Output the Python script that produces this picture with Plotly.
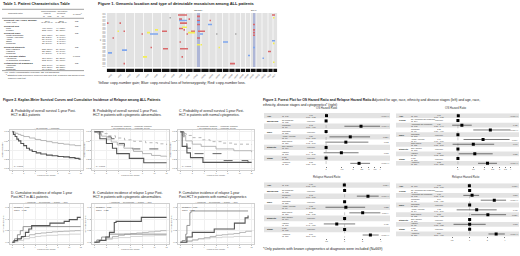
import numpy as np
import plotly.graph_objects as go

W, H = 520, 256
FONT = "Liberation Sans, Arial, Helvetica, sans-serif"

# ---------------- Table 1 ----------------
tbl_labels = ["Recipient Age (Years, Median)", "(Min, Max)", "Recipient Sex", "Male", "Female",
              "Recipient Race", "White/Caucasian", "African American", "Asian", "Other", "Unknown",
              "Recipient Ethnicity", "Non-Hispanic", "Hispanic", "Unknown",
              "ALL Disease Status", "Advanced", "In Complete Remission",
              "Cytogenetics at Diagnosis", "Abnormal", "Normal", "Unknown"]
tbl_absent = ["37.0", "(1.00, 66.0)", "", "400 (60%)", "272 (40%)", "", "501 (75%)", "55 (8.2%)",
              "51 (7.6%)", "45 (6.7%)", "20 (3.0%)", "", "575 (86%)", "83 (12%)", "14 (2.1%)", "",
              "110 (16%)", "562 (84%)", "", "365 (54%)", "241 (36%)", "66 (9.8%)"]
tbl_present = ["32.5", "(0.33, 65.0)", "", "44 (63%)", "26 (37%)", "", "54 (77%)", "5 (7.1%)",
               "4 (5.7%)", "5 (7.1%)", "2 (2.9%)", "", "59 (84%)", "10 (14%)", "1 (1.4%)", "",
               "20 (29%)", "50 (71%)", "", "40 (57%)", "23 (33%)", "7 (10%)"]
tbl_p = ["NS", "", "NS", "", "", "NS", "", "", "", "", "", "NS", "", "", "", "0.0001", "", "",
         "NS", "", "", ""]
tbl_group = [1, 0, 1, 0, 0, 1, 0, 0, 0, 0, 0, 1, 0, 0, 0, 1, 0, 0, 1, 0, 0, 0]

# ---------------- Figure 1 ----------------
chrom_names = ["chr1", "chr2", "chr3", "chr4", "chr5", "chr6", "chr7", "chr8", "chr9", "chr10",
               "chr11", "chr12", "chr13", "chr14", "chr15", "chr16", "chr17", "chr18", "chr19",
               "chr20", "chr21", "chr22", "chrX", "chrY"]
chrom_edges = [106.5, 116, 125.5, 134.5, 143.5, 152.5, 161.5, 170, 178, 185.5, 193, 201, 209, 216,
               222.5, 229, 235, 240.5, 245.5, 250.5, 256, 262, 268, 273, 277.5]
N_ROWS = 40
patient_ids = ["ID%03d" % (i + 1) for i in range(N_ROWS)]
gene_names = ["CDKN2A", "ETV6"]
gene_pos = [198.5, 254.2]
gene_width = [3.0, 2.4]

red_start = [107, 119.5, 112.5, 123.5, 123.5, 141.5, 150.5, 162, 163, 178, 179, 180, 188.5, 179,
             183.5, 186.5, 191, 179.5, 180, 181.5, 198, 197, 197, 197, 197, 230, 253, 253, 253,
             253, 268, 272, 209.5]
red_end = [108.5, 121, 114, 125, 125, 143, 152, 167, 168, 187, 182, 187, 190, 183, 185, 188, 195,
           181, 188, 183, 205, 200, 200, 200, 200, 235, 255, 255, 255, 255, 271, 275, 211]
red_row = [8, 8, 19, 14, 38, 16, 26, 14, 27, 2, 5, 8, 5, 12, 13, 16, 14, 22, 27, 33, 14, 3, 6, 9,
           19, 38, 9, 13, 15, 17, 29, 2, 6]
yel_start = [117.5, 143, 147, 155, 182, 188, 197, 200.5, 218.5, 273, 273, 273]
yel_end = [119, 147, 150, 158, 187, 195, 200, 202, 220, 274.5, 274.5, 274.5]
yel_row = [14, 33, 15, 13, 11, 15, 24, 24, 26, 4, 23, 37]
blu_start = [108, 122, 150, 179, 197, 200, 208, 223, 248, 253, 262.5, 272]
blu_end = [112, 127, 158, 187, 200, 203, 212, 228, 250, 255, 264, 275]
blu_row = [30, 28, 16, 6, 7, 16, 9, 22, 32, 26, 34, 21]
gry_start = [169.5, 216, 235]
gry_end = [171, 217.5, 236.5]
gry_row = [4, 16, 16]

# ---------------- Figure 2 (KM / cumulative incidence) ----------------
A_nomos_t = [0, 0.5, 1, 1.5, 2, 3, 4, 5, 6, 7, 8, 9, 10, 11, 12]
A_nomos_s = [1, 0.96, 0.93, 0.9, 0.87, 0.83, 0.79, 0.76, 0.73, 0.7, 0.68, 0.66, 0.64, 0.62, 0.61]
A_mos_t = [0, 0.2, 0.5, 0.8, 1.1, 1.5, 2, 2.5, 3, 3.5, 4.2, 5, 6, 7, 8, 9, 10, 11, 11.7, 12]
A_mos_s = [1, 0.93, 0.87, 0.8, 0.75, 0.68, 0.62, 0.55, 0.5, 0.46, 0.42, 0.39, 0.36, 0.34, 0.32,
           0.31, 0.29, 0.27, 0.25, 0.25]

B_g1_t = [0, 1, 2.3, 3.5, 5, 6.5, 8.5, 10.5, 12]
B_g1_s = [1, 0.95, 0.89, 0.83, 0.78, 0.74, 0.7, 0.67, 0.64]
B_g2_t = [0, 1.5, 2.8, 3.6, 5, 6.3, 12]
B_g2_s = [1, 0.86, 0.81, 0.68, 0.6, 0.53, 0.53]
B_g3_t = [0, 0.6, 1.2, 2, 2.8, 3.8, 4.9, 6.5, 8, 9.5, 11, 12]
B_g3_s = [1, 0.94, 0.88, 0.8, 0.72, 0.64, 0.55, 0.46, 0.4, 0.35, 0.33, 0.32]
B_g4_t = [0, 0.9, 2, 3, 3.7, 5.8, 8.2, 12]
B_g4_s = [1, 0.81, 0.68, 0.55, 0.4, 0.27, 0.15, 0.15]

C_g1_t = [0, 0.5, 1, 2, 3.5, 5, 7, 9, 12]
C_g1_s = [1, 0.95, 0.9, 0.84, 0.78, 0.73, 0.69, 0.66, 0.64]
C_g2_t = [0, 0.6, 1.1, 2.0, 6.9, 11.4]
C_g2_s = [1, 0.68, 0.55, 0.40, 0.21, 0.03]
C_g3_t = [0, 0.3, 0.9, 2, 3.5, 6, 9, 12]
C_g3_s = [1, 0.9, 0.75, 0.66, 0.6, 0.53, 0.48, 0.44]
C_g4_t = [0, 0.3, 1.1, 1.7, 3.8, 12]
C_g4_s = [1, 0.6, 0.42, 0.29, 0.16, 0.16]

D_rel_mos_t = [0, 0.3, 0.9, 1.6, 2.3, 2.9, 3.4, 6.6, 9.1, 10, 11.4, 12]
D_rel_mos_c = [0, 0.03, 0.06, 0.1, 0.17, 0.23, 0.29, 0.33, 0.36, 0.39, 0.43, 0.43]
D_trm_mos_t = [0, 0.4, 0.9, 1.4, 1.9, 12]
D_trm_mos_c = [0, 0.06, 0.13, 0.2, 0.27, 0.27]
D_rel_no_t = [0, 0.5, 1, 1.5, 2, 3, 4, 5, 6, 7, 8, 9, 10, 11, 12]
D_rel_no_c = [0, 0.02, 0.05, 0.08, 0.1, 0.13, 0.15, 0.16, 0.17, 0.18, 0.185, 0.19, 0.195, 0.2, 0.2]
D_trm_no_t = [0, 0.5, 1, 2, 3, 4, 5, 6, 8, 10, 12]
D_trm_no_c = [0, 0.01, 0.03, 0.06, 0.08, 0.1, 0.11, 0.12, 0.13, 0.14, 0.14]

E_rel_mos_t = [0, 0.8, 1.9, 2.5, 3.3, 3.6, 7.8, 12]
E_rel_mos_c = [0, 0.03, 0.09, 0.17, 0.34, 0.36, 0.43, 0.43]
E_trm_mos_t = [0, 0.4, 1.2, 2.5, 12]
E_trm_mos_c = [0, 0.04, 0.09, 0.14, 0.14]
E_rel_no_t = [0, 0.5, 1, 2, 3, 4, 5, 6, 7, 8, 9, 10, 11, 12]
E_rel_no_c = [0, 0.02, 0.04, 0.07, 0.1, 0.12, 0.14, 0.15, 0.16, 0.17, 0.18, 0.19, 0.2, 0.2]
E_trm_no_t = [0, 0.5, 1, 2, 3, 4, 6, 8, 10, 12]
E_trm_no_c = [0, 0.01, 0.03, 0.05, 0.07, 0.08, 0.1, 0.11, 0.12, 0.12]

F_trm_mos_t = [0, 0.3, 0.9, 1.1, 1.6, 1.8, 11.4]
F_trm_mos_c = [0, 0.03, 0.14, 0.29, 0.51, 0.54, 0.54]
F_rel_mos_t = [0, 1.1, 2, 5.7, 9.1, 10.9, 11.4]
F_rel_mos_c = [0, 0.09, 0.17, 0.23, 0.33, 0.42, 0.46]
F_rel_no_t = [0, 1, 2, 3, 4, 5, 6, 7, 8, 9, 10, 11, 12]
F_rel_no_c = [0, 0.02, 0.04, 0.06, 0.08, 0.1, 0.12, 0.13, 0.14, 0.15, 0.17, 0.19, 0.2]
F_trm_no_t = [0, 1, 2, 3, 5, 7, 9, 12]
F_trm_no_c = [0, 0.02, 0.04, 0.06, 0.08, 0.09, 0.1, 0.1]

# ---------------- Figure 3 (forest plots) ----------------
L_var = ["Age", "Mosaicism", "", "Race", "", "", "Ethnicity", "", "Stage", ""]
L_level = ["", "No Mosaicism", "Mosaicism", "Caucasian", "African American", "Other Races",
           "Non-Hispanic", "Hispanic", "In CR", "Advanced"]
L_n = [742, 672, 70, 555, 60, 127, 634, 108, 612, 130]
L_os_hr = [1.01, None, 2.45, None, 1.86, 1.66, None, 1.48, None, 2.33]
L_os_lo = [1.00, None, 1.60, None, 1.09, 0.98, None, 0.94, None, 1.86]
L_os_hi = [1.02, None, 4.00, None, 3.09, 2.96, None, 2.30, None, 3.09]
L_os_p = ["<0.001 ***", "", "<0.001 ***", "", "0.023 *", "0.062", "", "0.093", "", "<0.001 ***"]
L_rel_hr = [0.99, None, 2.45, None, 1.05, 2.00, None, 0.74, None, 2.69]
L_rel_lo = [0.98, None, 1.60, None, 0.48, 1.20, None, 0.45, None, 2.00]
L_rel_hi = [1.00, None, 3.70, None, 2.20, 3.95, None, 1.50, None, 3.70]
L_rel_p = ["0.011 *", "", "<0.001 ***", "", "0.888", "0.007 **", "", "0.430", "", "<0.001 ***"]

R_var = ["Age", "Group", "", "", "Race", "", "", "Ethnicity", "", "Stage", ""]
R_level = ["", "No Abnormality/No Mosaicism", "Abnormality/No Mosaicism", "Mosaicism",
           "Caucasian", "African American", "Other Races", "Non-Hispanic", "Hispanic", "In CR",
           "Advanced"]
R_n = [669, 264, 342, 63, 503, 54, 112, 571, 98, 553, 116]
R_os_hr = [1.01, None, 1.11, 2.35, None, 1.94, 1.50, None, 1.56, None, 2.18]
R_os_lo = [1.00, None, 0.86, 1.50, None, 1.16, 0.87, None, 1.02, None, 1.70]
R_os_hi = [1.02, None, 1.44, 4.00, None, 3.90, 2.60, None, 2.50, None, 2.80]
R_os_p = ["<0.001 ***", "", "0.420", "<0.001 ***", "", "0.013 *", "0.140", "", "0.051", "",
          "<0.001 ***"]
R_rel_hr = [0.99, None, 1.10, 2.64, None, 1.32, 2.05, None, 1.00, None, 2.84]
R_rel_lo = [0.98, None, 0.78, 1.55, None, 0.60, 1.06, None, 0.53, None, 2.10]
R_rel_hi = [1.00, None, 1.45, 4.20, None, 2.90, 4.20, None, 1.88, None, 4.00]
R_rel_p = ["0.018 *", "", "0.569", "<0.001 ***", "", "0.479", "0.032 *", "", "0.993", "",
           "<0.001 ***"]
os_ticks = [1, 1.5, 2, 2.5, 3, 3.5, 4]
rel_ticks = [0.5, 1, 2, 4]

# =====================================================================
def px(x):
    return x / W


def py(y):
    return 1 - y / H


def dx(a, b):
    return [a / W, b / W]


def dy(top, bottom):
    return [1 - bottom / H, 1 - top / H]


annotations, shapes, traces = [], [], []
layout = dict(width=W, height=H, margin=dict(l=0, r=0, t=0, b=0), paper_bgcolor="white",
              plot_bgcolor="white", showlegend=False, barmode="overlay",
              font=dict(family=FONT, size=3, color="#222"))


def ann(x, y, s, size, bold=False, anchor="left", yanchor="middle", color="#222",
        xref="paper", yref="paper", angle=0):
    if bold:
        s = "<b>%s</b>" % s
    annotations.append(dict(
        x=px(x) if xref == "paper" else x, y=py(y) if yref == "paper" else y,
        xref=xref, yref=yref, text=s, showarrow=False, xanchor=anchor, yanchor=yanchor,
        align=anchor, borderpad=0, textangle=angle,
        font=dict(size=size, color=color, family=FONT)))


def hline(x0, x1, y, color="#444", w=0.5):
    shapes.append(dict(type="line", xref="paper", yref="paper", x0=px(x0), x1=px(x1),
                       y0=py(y), y1=py(y), line=dict(color=color, width=w)))


# ---------------- Table 1 ----------------
ann(2, 3.5, "Table 1. Patient Characteristics Table", 3.8, bold=True)
hline(2, 84, 9.3)
hline(2, 84, 18.3)
hline(2, 84, 70.6)
ann(15, 13.5, "Characteristic", 2.4, anchor="center", color="#444")
ann(54, 11.3, "Chromosomal Aberration", 2.4, anchor="center", color="#444")
ann(47, 13.7, "Absent", 2.4, anchor="center", color="#444")
ann(61, 13.7, "Present", 2.4, anchor="center", color="#444")
ann(47, 16.1, "N = 672", 2.4, anchor="center", color="#444")
ann(61, 16.1, "N = 70", 2.4, anchor="center", color="#444")
ann(77, 13.5, "p-value<sup>1</sup>", 2.4, anchor="center", color="#444")
row_y = [20.7, 22.9, 25.7, 27.9, 30.0, 33.1, 35.2, 37.3, 39.3, 41.3, 43.4, 46.6, 48.8, 50.9, 53.0,
         55.7, 57.8, 59.9, 62.7, 64.7, 66.7, 68.7]
for lab, a, b, p, g, yy in zip(tbl_labels, tbl_absent, tbl_present, tbl_p, tbl_group, row_y):
    ann(3 if g else 5, yy, lab, 2.3, bold=bool(g), color="#222")
    ann(47, yy, a, 2.3, anchor="center", color="#333")
    ann(61, yy, b, 2.3, anchor="center", color="#333")
    ann(77, yy, p, 2.3, anchor="center", color="#333")
ann(3, 72.2, "ALL, acute lymphoblastic leukemia; NS, not significant", 2.3, color="#333")
ann(5, 75.2, "<sup>1</sup> Statistical tests performed: Wilcoxon rank sum test; Pearson's Chi-squared test;",
    2.2, color="#333")
ann(7, 77.6, "Fisher's exact test", 2.2, color="#333")

# ---------------- Figure 1 ----------------
ann(97, 3.5, "Figure 1. Genomic location and type of detectable mosaicism among ALL patients",
    4.0, bold=True)
edges = np.array(chrom_edges)
centers = (edges[:-1] + edges[1:]) / 2
widths = np.diff(edges)
traces.append(go.Bar(x=centers, y=[N_ROWS] * len(centers), base=0.5, width=widths - 0.7,
                     marker=dict(color="#e2e2e2", line=dict(width=0)), xaxis="x", yaxis="y",
                     hoverinfo="skip"))
traces.append(go.Bar(x=gene_pos, y=[N_ROWS] * 2, base=0.5, width=gene_width,
                     marker=dict(color="rgba(110,128,200,0.45)", line=dict(width=0)),
                     xaxis="x", yaxis="y", hoverinfo="skip"))


def seg_trace(starts, ends, rows, color):
    xs, ys = [], []
    for s, e, r in zip(starts, ends, rows):
        xs += [s, e, None]
        ys += [r, r, None]
    return go.Scatter(x=xs, y=ys, mode="lines", line=dict(color=color, width=1.6),
                      xaxis="x", yaxis="y", hoverinfo="skip")


traces.append(seg_trace(gry_start, gry_end, gry_row, "#a8a8a8"))
traces.append(seg_trace(red_start, red_end, red_row, "#d9696b"))
traces.append(seg_trace(blu_start, blu_end, blu_row, "#7ea6ee"))
traces.append(seg_trace(yel_start, yel_end, yel_row, "#f2ee55"))
layout["xaxis"] = dict(domain=dx(chrom_edges[0], chrom_edges[-1]), anchor="y",
                       range=[chrom_edges[0], chrom_edges[-1]], visible=False)
layout["yaxis"] = dict(domain=dy(13, 67), anchor="x", range=[N_ROWS + 0.5, 0.5],
                       tickvals=list(range(1, N_ROWS + 1)), ticktext=patient_ids,
                       tickfont=dict(size=1.2, color="#777"), showgrid=False, zeroline=False,
                       ticks="", showline=False,
                       title=dict(text="ID", font=dict(size=2.2, color="#444"), standoff=1))
for g, gp in zip(gene_names, gene_pos):
    ann(gp, 10, g, 2.2, anchor="center", color="#333", xref="x")
traces.append(go.Bar(x=centers, y=[1] * len(centers), base=0, width=widths - 0.7,
                     marker=dict(color="#111111", line=dict(width=0)), xaxis="x2", yaxis="y2",
                     hoverinfo="skip"))
layout["xaxis2"] = dict(domain=dx(chrom_edges[0], chrom_edges[-1]), anchor="y2",
                        range=[chrom_edges[0], chrom_edges[-1]], tickvals=list(centers),
                        ticktext=chrom_names, tickangle=-45,
                        tickfont=dict(size=2.2, color="#444"), showgrid=False, zeroline=False,
                        ticks="", showline=False)
layout["yaxis2"] = dict(domain=dy(68.5, 72), anchor="x2", range=[0, 1], visible=False)
ann(97, 83, "Yellow: copy-number gain; Blue: copy-neutral loss of heterozygosity; Red: copy-number loss.",
    3.6)

# ---------------- Figure 2 ----------------
ann(2, 99.5, "Figure 2. Kaplan-Meier Survival Curves and Cumulative Incidence of Relapse among ALL Patients",
    3.4, bold=True)

DARK, MID, LIGHT, LIGHTER = "#555555", "#8a8a8a", "#b0b0b0", "#cfcfcf"
LEG_CI = ("<span style='color:#555'>—</span> Mosaicism  <span style='color:#b0b0b0'>—</span> "
          "No Mosaicism  — Relapse  <span style='color:#8a8a8a'>—</span> TRM")
LEG_4 = "··· No Mosaicism, Subgroup  - - Mosaicism, Subgroup<br>— No Mosaicism, Overall  — Mosaicism, Overall"
km_panels = [
    dict(i=3, x=(10, 83), y=(130, 170), kind="surv",
         title="A. Probability of overall survival 1-year Post-<br>HCT in ALL patients",
         legend="<span style='color:#b0b0b0'>—</span> No Mosaicism  <span style='color:#555'>—</span> Mosaicism",
         note=["p < 0.0001"],
         curves=[(A_nomos_t, A_nomos_s, LIGHT, "solid", 0.9), (A_mos_t, A_mos_s, DARK, "solid", 1.1)]),
    dict(i=4, x=(92, 169), y=(130, 170), kind="surv",
         title="B. Probability of overall survival 1-year Post-<br>HCT in patients with cytogenetic abnormalities.",
         legend=LEG_4, note=["p < 0.0001"],
         curves=[(B_g1_t, B_g1_s, LIGHT, "dot", 0.9), (B_g2_t, B_g2_s, DARK, "dash", 0.9),
                 (B_g3_t, B_g3_s, LIGHT, "solid", 0.9), (B_g4_t, B_g4_s, DARK, "solid", 1.1)]),
    dict(i=5, x=(178, 254), y=(130, 170), kind="surv",
         title="C. Probability of overall survival 1-year Post-<br>HCT in patients with normal cytogenetics.",
         legend=LEG_4, note=["p < 0.0001"],
         curves=[(C_g1_t, C_g1_s, LIGHT, "dot", 0.9), (C_g2_t, C_g2_s, DARK, "dash", 0.9),
                 (C_g3_t, C_g3_s, LIGHT, "solid", 0.9), (C_g4_t, C_g4_s, DARK, "solid", 1.1)]),
    dict(i=6, x=(10, 83), y=(204, 244), kind="ci",
         title="D. Cumulative incidence of relapse 1-year<br>Post-HCT in ALL patients.",
         legend=LEG_CI, note=["Relapse p = 0.001", "TRM p = 0.136"],
         curves=[(D_trm_no_t, D_trm_no_c, LIGHTER, "solid", 0.9),
                 (D_rel_no_t, D_rel_no_c, LIGHT, "solid", 0.9),
                 (D_trm_mos_t, D_trm_mos_c, MID, "solid", 0.9),
                 (D_rel_mos_t, D_rel_mos_c, DARK, "solid", 1.1)]),
    dict(i=7, x=(92, 169), y=(204, 244), kind="ci",
         title="E. Cumulative incidence of relapse 1-year Post-<br>HCT in patients with cytogenetic abnormalities.",
         legend=LEG_CI, note=["Relapse p = 0.016", "TRM p = 0.336"],
         curves=[(E_trm_no_t, E_trm_no_c, LIGHTER, "solid", 0.9),
                 (E_rel_no_t, E_rel_no_c, LIGHT, "solid", 0.9),
                 (E_trm_mos_t, E_trm_mos_c, MID, "solid", 0.9),
                 (E_rel_mos_t, E_rel_mos_c, DARK, "solid", 1.1)]),
    dict(i=8, x=(178, 254), y=(204, 244), kind="ci",
         title="F. Cumulative incidence of relapse 1-year<br>Post-HCT in patients with normal cytogenetics",
         legend=LEG_CI, note=["Relapse p < 0.001", "TRM p = 0.098"],
         curves=[(F_trm_no_t, F_trm_no_c, LIGHTER, "solid", 0.9),
                 (F_rel_no_t, F_rel_no_c, LIGHT, "solid", 0.9),
                 (F_trm_mos_t, F_trm_mos_c, MID, "solid", 0.9),
                 (F_rel_mos_t, F_rel_mos_c, DARK, "solid", 1.1)]),
]

for p in km_panels:
    i = p["i"]
    for t, s, col, dash, w in p["curves"]:
        traces.append(go.Scatter(x=t, y=s, mode="lines", line=dict(color=col, dash=dash, width=w,
                                 shape="hv"), xaxis="x%d" % i, yaxis="y%d" % i, hoverinfo="skip"))
    axcommon = dict(showline=True, mirror=True, linecolor="#cfcfcf", linewidth=0.6,
                    showgrid=True, gridcolor="#f0f0f0", gridwidth=0.5, zeroline=False,
                    ticks="outside", ticklen=1, tickwidth=0.5, tickcolor="#bbb",
                    tickfont=dict(size=1.8, color="#666"))
    layout["xaxis%d" % i] = dict(domain=dx(*p["x"]), anchor="y%d" % i, range=[-0.4, 12.4],
                                 tickvals=[0, 2, 4, 6, 8, 10, 12],
                                 title=dict(text="Follow up time (month)",
                                            font=dict(size=1.8, color="#555"), standoff=1),
                                 **axcommon)
    if p["kind"] == "surv":
        layout["yaxis%d" % i] = dict(domain=dy(*p["y"]), anchor="x%d" % i, range=[-0.05, 1.05],
                                     tickvals=[0, 0.25, 0.5, 0.75, 1],
                                     ticktext=["0.00", "0.25", "0.50", "0.75", "1.00"],
                                     title=dict(text="Survival probability",
                                                font=dict(size=1.8, color="#555"), standoff=1),
                                     **axcommon)
    else:
        layout["yaxis%d" % i] = dict(domain=dy(*p["y"]), anchor="x%d" % i, range=[-0.03, 0.66],
                                     tickvals=[0, 0.2, 0.4, 0.6],
                                     ticktext=["0.0", "0.2", "0.4", "0.6"],
                                     title=dict(text="Cumulative incidence",
                                                font=dict(size=1.8, color="#555"), standoff=1),
                                     **axcommon)
    x0, x1 = p["x"]
    top, bot = p["y"]
    ann(x0, top - 22 if p["kind"] == "surv" else top - 14.5, p["title"], 3.3, yanchor="top")
    ann((x0 + x1) / 2, top - 2.5, p["legend"], 1.8, anchor="center", color="#444")
    if p["kind"] == "surv":
        ann(x0 + 3, bot - 4, p["note"][0], 1.9, color="#333")
    else:
        ann(x0 + 2.5, top + 2.5, p["note"][0], 1.9, color="#333")
        ann(x0 + 2.5, top + 5.8, p["note"][1], 1.9, color="#333")

# ---------------- Figure 3 ----------------
ann(262, 99.8, "<b>Figure 3. Forest Plot for OS Hazard Ratio and Relapse Hazard Ratio</b> Adjusted for age, race, ethnicity and disease stages (left) and age, race,",
    3.4)
ann(262, 104.6, "ethnicity, disease stages and cytogenetics* (right)", 3.4)


def add_forest(i, var, level, n, hr, lo, hi, pv, plot_x, band_x, rows_y, var_x, lev_x, hr_x,
               p_x, xr, ticks, title, title_x, title_y):
    nr = len(var)
    xa, ya = "x%d" % i, "y%d" % i
    layout["xaxis%d" % i] = dict(domain=dx(*plot_x), anchor=ya, type="log",
                                 range=[np.log10(xr[0]), np.log10(xr[1])], tickvals=ticks,
                                 ticktext=["%g" % t for t in ticks],
                                 tickfont=dict(size=2, color="#444"), showgrid=False,
                                 zeroline=False, showline=False, ticks="outside", ticklen=1,
                                 tickwidth=0.5, tickcolor="#777")
    layout["yaxis%d" % i] = dict(domain=dy(*rows_y), anchor=xa, range=[nr + 0.5, 0.5],
                                 visible=False)
    for k in range(nr):
        if k % 2 == 0:
            shapes.append(dict(type="rect", xref="paper", yref=ya, x0=px(band_x[0]),
                               x1=px(band_x[1]), y0=k + 0.5, y1=k + 1.5, fillcolor="#e3e3e3",
                               line=dict(width=0), layer="below"))
    traces.append(go.Scatter(x=[1, 1], y=[0.5, nr + 0.5], mode="lines",
                             line=dict(color="#999", width=0.5, dash="dot"), xaxis=xa,
                             yaxis=ya, hoverinfo="skip"))
    cx, cy = [], []
    for k in range(nr):
        if hr[k] is not None:
            cx += [lo[k], hi[k], None]
            cy += [k + 1, k + 1, None]
    traces.append(go.Scatter(x=cx, y=cy, mode="lines", line=dict(color="#222", width=0.6),
                             xaxis=xa, yaxis=ya, hoverinfo="skip"))
    traces.append(go.Scatter(x=[h if h is not None else 1 for h in hr],
                             y=list(range(1, nr + 1)), mode="markers",
                             marker=dict(symbol="square", size=3, color="#000"), xaxis=xa,
                             yaxis=ya, hoverinfo="skip"))
    for k in range(nr):
        r = k + 1
        if var[k]:
            ann(var_x, r, var[k], 2.2, bold=True, yref=ya, color="#222")
        lev = "(N=%d)" % n[k] if not level[k] else "%s<br>(N=%d)" % (level[k], n[k])
        ann(lev_x, r, lev, 1.8, yref=ya, color="#333")
        if hr[k] is None:
            ann(hr_x, r, "reference", 1.9, anchor="center", yref=ya, color="#333")
        else:
            ann(hr_x, r, "%.2f<br>(%.2f - %.2f)" % (hr[k], lo[k], hi[k]), 1.8, anchor="center",
                yref=ya, color="#333")
        if pv[k]:
            ann(p_x, r, pv[k], 1.8, anchor="right", yref=ya, color="#333")
    ann(title_x, title_y, title, 2.8, anchor="center", color="#333")


add_forest(9, L_var, L_level, L_n, L_os_hr, L_os_lo, L_os_hi, L_os_p, (322, 382), (264, 390),
           (113, 166), 266, 281, 311, 390, (0.9, 4.2), os_ticks, "OS Hazard Ratio", 327, 107.5)
add_forest(10, L_var, L_level, L_n, L_rel_hr, L_rel_lo, L_rel_hi, L_rel_p, (322, 382),
           (264, 390), (182.3, 237.8), 266, 281, 311, 390, (0.42, 4.2), rel_ticks,
           "Relapse Hazard Ratio", 327, 177)
add_forest(11, R_var, R_level, R_n, R_os_hr, R_os_lo, R_os_hi, R_os_p, (447, 511), (396, 519),
           (113.3, 165.7), 398, 410, 439, 518.5, (0.75, 4.05), os_ticks, "OS Hazard Ratio",
           456, 107.5)
add_forest(12, R_var, R_level, R_n, R_rel_hr, R_rel_lo, R_rel_hi, R_rel_p, (447, 511),
           (396, 519), (183.3, 236.4), 398, 410, 439, 518.5, (0.41, 5.1), rel_ticks,
           "Relapse Hazard Ratio", 466, 177)

ann(262, 248.5, "*Only patients with known cytogenetics at diagnosis were included (N=669)", 3.6)

layout["annotations"] = annotations
layout["shapes"] = shapes
fig = go.Figure(data=traces, layout=layout)
fig.write_html("out.html", config={"displayModeBar": False},
               post_script="document.body.style.margin='0';document.body.style.padding='0';")
